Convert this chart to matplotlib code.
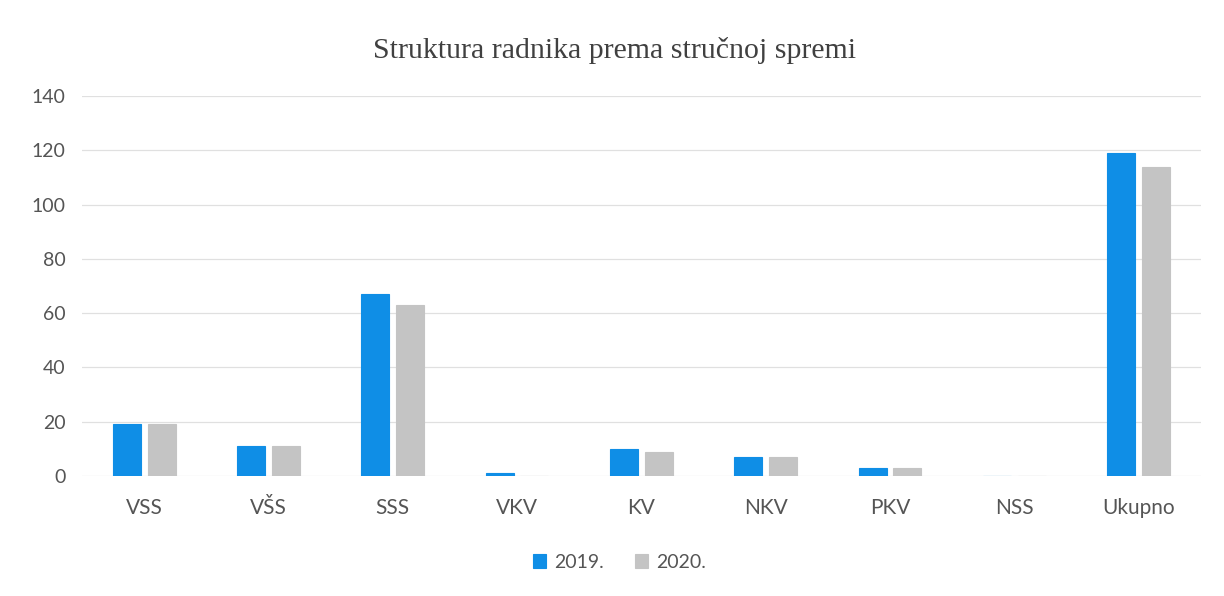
import numpy as np
import matplotlib.pyplot as plt

# podaci
kategorije = ["VSS", "VŠS", "SSS", "VKV", "KV", "NKV", "PKV", "NSS", "Ukupno"]
godine = ["2019.", "2020."]
vrijednosti_2019 = [19, 11, 67, 1, 10, 7, 3, 0, 119]
vrijednosti_2020 = [19, 11, 63, 0, 9, 7, 3, 0, 114]
boje = ["#0f8ee6", "#c4c4c4"]

fig = plt.figure(figsize=(12.24, 5.96), dpi=100)
ax = fig.add_axes([0.067, 0.2013, 0.914, 0.6376])

x = np.arange(len(kategorije))
w = 0.225
off = 0.14
ax.bar(x - off, vrijednosti_2019, w, color=boje[0], edgecolor=boje[0], linewidth=0.8, label=godine[0], zorder=3)
ax.bar(x + off, vrijednosti_2020, w, color=boje[1], edgecolor=boje[1], linewidth=0.8, label=godine[1], zorder=3)

ax.set_xlim(-0.5, len(kategorije) - 0.5)
ax.set_ylim(0, 140)
ax.set_yticks(np.arange(0, 141, 20))
ax.set_xticks(x)
ax.set_xticklabels(kategorije)

ax.grid(axis="y", color="#e0e0e0", linewidth=0.9, zorder=0)
for s in ax.spines.values():
    s.set_visible(False)
ax.tick_params(length=0, labelcolor="#555555")
ax.tick_params(axis="y", pad=12, labelsize=14)
ax.tick_params(axis="x", pad=16, labelsize=15)
for t in ax.get_xticklabels() + ax.get_yticklabels():
    t.set_family("Lato")

fig.text(0.502, 0.915, "Struktura radnika prema stručnoj spremi", ha="center", va="center",
         family="Liberation Serif", fontsize=21.5, color="#404040")

leg = fig.legend(loc="center", bbox_to_anchor=(0.506, 0.057), ncol=2, frameon=False,
                 handlelength=0.7, handleheight=0.7, handletextpad=0.4, columnspacing=1.6,
                 prop={"family": "Lato", "size": 14})
for t in leg.get_texts():
    t.set_color("#555555")

fig.savefig("out.png", dpi=100, facecolor="white")
